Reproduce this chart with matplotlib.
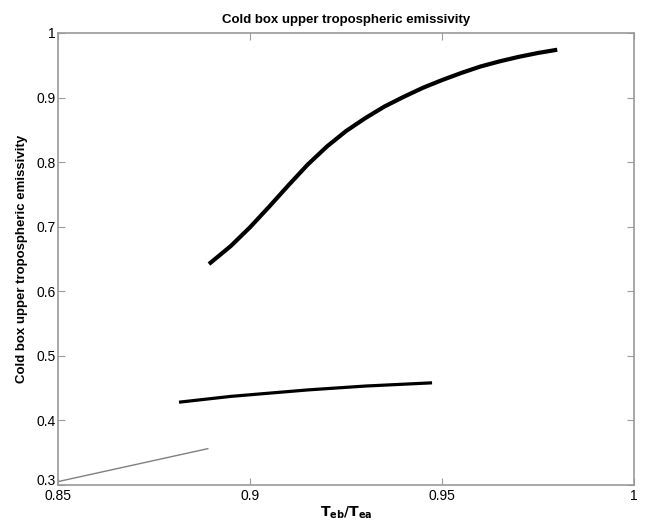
#!/usr/bin/env python3
# -*- coding: utf-8 -*-
"""
Cold box upper tropospheric emissivity vs T_eb/T_ea
"""
import matplotlib
matplotlib.use('Agg')
import matplotlib.pyplot as plt
import matplotlib.transforms as mtransforms

# Upper thick curve
ratio_upper = [0.8893, 0.895, 0.900, 0.905, 0.910, 0.915, 0.920, 0.925, 0.930, 0.935,
               0.940, 0.945, 0.950, 0.955, 0.960, 0.965, 0.970, 0.975, 0.980]
emis_upper = [0.642, 0.670, 0.699, 0.731, 0.764, 0.796, 0.824, 0.848, 0.868, 0.886,
              0.901, 0.915, 0.927, 0.938, 0.948, 0.956, 0.963, 0.969, 0.974]

# Middle thick curve
ratio_mid = [0.8815, 0.895, 0.915, 0.930, 0.9474]
emis_mid = [0.428, 0.437, 0.447, 0.453, 0.458]

# Lower thin line
ratio_low = [0.85, 0.889]
emis_low = [0.305, 0.356]

xticks = [0.85, 0.9, 0.95, 1.0]
xtick_labels = ['0.85', '0.9', '0.95', '1']
yticks = [0.3, 0.4, 0.5, 0.6, 0.7, 0.8, 0.9, 1.0]
ytick_labels = ['0.3', '0.4', '0.5', '0.6', '0.7', '0.8', '0.9', '1']

plt.rcParams['font.family'] = ['Liberation Sans', 'DejaVu Sans']

fig = plt.figure(figsize=(6.45, 5.23), dpi=100)
ax = fig.add_axes([0.090, 0.073, 0.893, 0.864])

ax.plot(ratio_upper, emis_upper, color='black', linewidth=3, solid_capstyle='butt')
ax.plot(ratio_mid, emis_mid, color='black', linewidth=2.3, solid_capstyle='butt')
ax.plot(ratio_low, emis_low, color='#808080', linewidth=1.0)

ax.set_xlim(0.85, 1.0)
ax.set_ylim(0.3, 1.0)
ax.set_xticks(xticks)
ax.set_xticklabels(xtick_labels)
ax.set_yticks(yticks)
ax.set_yticklabels(ytick_labels)

for s in ax.spines.values():
    s.set_color('#9a9a9a')
    s.set_linewidth(1.2)
ax.tick_params(direction='in', top=True, right=True, length=5, color='#9a9a9a',
               labelsize=10, pad=2)
ax.tick_params(axis='x', pad=3)

# lift the bottom y label a bit so it clears the 0.85 label
lbl = ax.get_yticklabels()[0]
lbl.set_transform(lbl.get_transform() +
                  mtransforms.ScaledTranslation(0, 4 / 72, fig.dpi_scale_trans))

ax.set_title('Cold box upper tropospheric emissivity', fontsize=9.5,
             fontweight='bold', pad=7)
ax.set_ylabel('Cold box upper tropospheric emissivity', fontsize=9.5,
              fontweight='bold', labelpad=6)
ax.set_xlabel(r'$\mathbf{T_{eb}/T_{ea}}$', fontsize=10, labelpad=1)

fig.savefig('out.png', dpi=100)
